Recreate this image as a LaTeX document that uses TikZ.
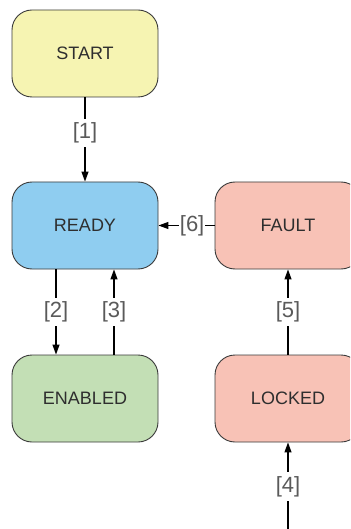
\documentclass[tikz,border=0pt]{standalone}
\usepackage{fontspec}
\setmainfont{Liberation Sans}
\usepackage{color}
\usetikzlibrary{arrows.meta}

\definecolor{startyellow}{HTML}{F6F4B2}
\definecolor{readyblue}{HTML}{8FCDF0}
\definecolor{enabledgreen}{HTML}{C3DFB5}
\definecolor{faultred}{HTML}{F8C2B6}
\definecolor{boxline}{HTML}{3A3A3A}
\definecolor{boxtext}{HTML}{2E2E2E}
\definecolor{labelgrey}{HTML}{5A5A5A}

\begin{document}
\begin{tikzpicture}[x=1pt,y=-1pt,
    statebox/.style={draw=boxline,line width=0.9pt,rounded corners=20pt,
        minimum width=146pt,minimum height=87pt,inner sep=0pt,
        text=boxtext,font=\fontsize{18}{20}\selectfont},
    trans/.style={-{Triangle[length=10pt,width=7pt]},line width=1.2pt},
    tlabel/.style={fill=white,text=labelgrey,inner xsep=1pt,inner ysep=4pt,
        font=\fontsize{22}{24}\selectfont}]
    \useasboundingbox (0,0) rectangle (350,529);
    \clip (0,0) rectangle (350,529);

    \node[statebox,fill=startyellow] at (85,53.5)(start) {START};
    \node[statebox,fill=readyblue] at (85,225.5)(ready) {READY};
    \node[statebox,fill=enabledgreen] at (85,398.5)(enabled) {ENABLED};
    \node[statebox,fill=faultred] at (288,225.5)(fault) {FAULT};
    \node[statebox,fill=faultred] at (288,398.5)(locked) {LOCKED};
    \coordinate (entry) at (288,540);

    \draw[trans] (start) -- node[tlabel,pos=0.42] {[1]} (ready);
    \draw[trans] ([xshift=-29pt]ready.south) -- node[tlabel] {[2]} ([xshift=-29pt]enabled.north);
    \draw[trans] ([xshift=29pt]enabled.north) -- node[tlabel] {[3]} ([xshift=29pt]ready.south);
    \draw[trans] (entry) -- node[tlabel,pos=0.55] {[4]} (locked);
    \draw[trans] (locked) -- node[tlabel] {[5]} (fault);
    \draw[trans] (fault) -- node[tlabel,pos=0.4] {[6]} (ready);

\end{tikzpicture}
\end{document}
